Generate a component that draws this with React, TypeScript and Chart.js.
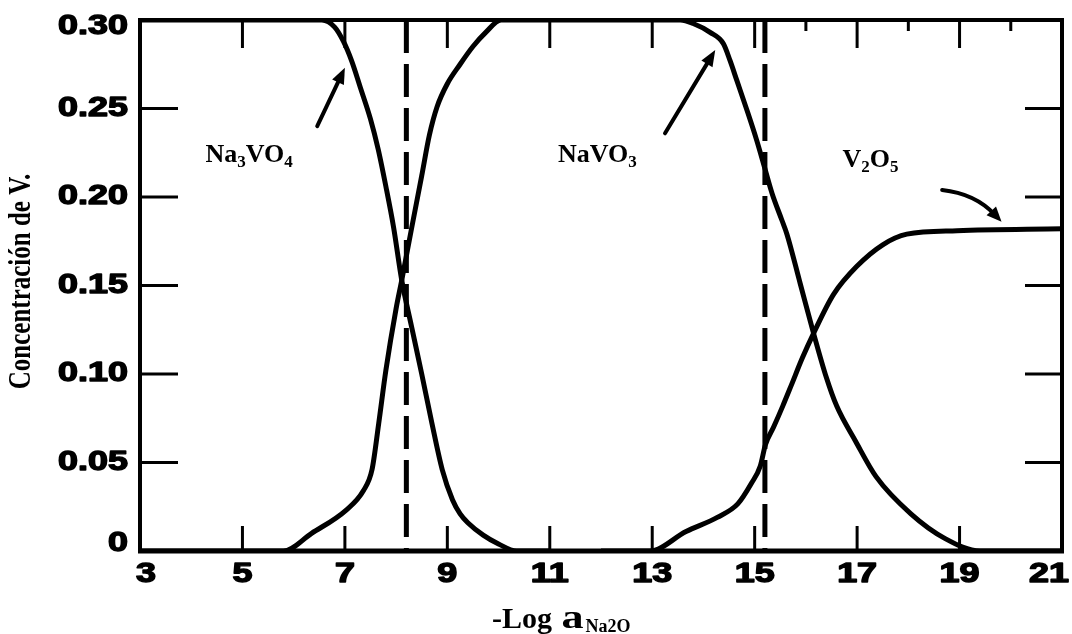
import React, { useEffect, useRef } from "react";
import { Chart, registerables } from "chart.js";

Chart.register(...registerables);

// ---------- axes ----------
const X_MIN = 3;
const X_MAX = 21;
const Y_MIN = 0;
const Y_MAX = 0.3;
const xTickValues = [3, 5, 7, 9, 11, 13, 15, 17, 19, 21];
const xTickLabels = ["3", "5", "7", "9", "11", "13", "15", "17", "19", "21"];
const yTickValues = [0, 0.05, 0.1, 0.15, 0.2, 0.25, 0.3];
const yTickLabels = ["0", "0.05", "0.10", "0.15", "0.20", "0.25", "0.30"];
const topMinorTicks = [16, 18, 20];
const xTitleParts = ["-Log ", "a", "Na2O"];
const yTitle = "Concentración de V.";

// ---------- series ----------
const na3vo4X = [3, 6.55, 6.8, 6.97, 7.13, 7.3, 7.5, 7.65, 7.8, 7.95, 8.11, 8.3, 8.5, 8.7, 8.9, 9.1, 9.25, 9.4, 9.7, 10.0, 10.35, 11];
const na3vo4Y = [0.3, 0.3, 0.296, 0.288, 0.277, 0.262, 0.244, 0.227, 0.206, 0.183, 0.153, 0.127, 0.1, 0.072, 0.046, 0.029, 0.021, 0.016, 0.009, 0.004, 0, 0];

const navo3X = [3, 5.8, 6.35, 7.02, 7.36, 7.53, 7.66, 7.8, 8.0, 8.11, 8.3, 8.5, 8.65, 8.8, 9.0, 9.25, 9.5, 9.75, 10.05, 13.55, 13.8, 14.13, 14.39, 14.52, 14.65, 14.85, 15.04, 15.2, 15.34, 15.53, 15.63, 15.89, 16.15, 16.4, 16.6, 16.97, 17.37, 18.05, 18.72, 19.4, 21];
const navo3Y = [0, 0, 0.01, 0.023, 0.034, 0.046, 0.072, 0.102, 0.137, 0.153, 0.182, 0.212, 0.235, 0.251, 0.264, 0.275, 0.285, 0.293, 0.3, 0.3, 0.298, 0.293, 0.2866, 0.277, 0.266, 0.249, 0.232, 0.216, 0.202, 0.187, 0.179, 0.151, 0.123, 0.098, 0.082, 0.062, 0.042, 0.021, 0.007, 0, 0];

const v2o5X = [12, 12.95, 13.66, 14.27, 14.67, 14.94, 15.11, 15.21, 15.37, 15.55, 15.72, 15.93, 16.15, 16.54, 17.0, 17.5, 17.97, 18.95, 21];
const v2o5Y = [0, 0, 0.011, 0.019, 0.0266, 0.0384, 0.048, 0.06, 0.07, 0.082, 0.094, 0.109, 0.123, 0.145, 0.161, 0.173, 0.179, 0.181, 0.182];

// phase boundaries (dashed verticals)
const boundaryX = [8.2, 15.2];

// ---------- annotations ----------
const speciesParts = [["Na", "3", "VO", "4"], ["NaVO", "3"], ["V", "2", "O", "5"]];
const speciesX = [5.13, 11.93, 17.26];
const speciesY = [0.2196, 0.2196, 0.2167];

const arrowFromX = [6.46, 13.25];
const arrowFromY = [0.24, 0.236];
const arrowToX = [7.0, 14.23];
const arrowToY = [0.273, 0.283];

const curvedArrowX = [18.66, 19.3, 19.82];
const curvedArrowY = [0.204, 0.202, 0.186];

const toPoints = (xs: number[], ys: number[]) => xs.map((x, i) => ({ x, y: ys[i] }));

function drawHead(ctx: CanvasRenderingContext2D, fx: number, fy: number, tx: number, ty: number, len: number, half: number) {
  const a = Math.atan2(ty - fy, tx - fx);
  const c = Math.cos(a);
  const s = Math.sin(a);
  ctx.beginPath();
  ctx.moveTo(tx, ty);
  ctx.lineTo(tx - len * c + half * s, ty - len * s - half * c);
  ctx.lineTo(tx - len * c - half * s, ty - len * s + half * c);
  ctx.closePath();
  ctx.fill();
}

function drawParts(ctx: CanvasRenderingContext2D, parts: string[], cx: number, baseline: number, mainFont: string, subFont: string, subDy: number) {
  let total = 0;
  const widths = parts.map((p, i) => {
    ctx.font = i % 2 === 0 ? mainFont : subFont;
    const w = ctx.measureText(p).width;
    total += w;
    return w;
  });
  let x = cx - total / 2;
  ctx.textAlign = "left";
  ctx.textBaseline = "alphabetic";
  parts.forEach((p, i) => {
    ctx.font = i % 2 === 0 ? mainFont : subFont;
    ctx.fillText(p, x, baseline + (i % 2 === 0 ? 0 : subDy));
    x += widths[i];
  });
}

const SERIF = '"Liberation Serif", "Times New Roman", serif';

const decorPlugin = {
  id: "decor",
  afterDatasetsDraw(chart: any) {
    const { ctx, chartArea: a, scales } = chart;
    const xs = scales.x;
    const ys = scales.y;
    const line = (x1: number, y1: number, x2: number, y2: number) => {
      ctx.beginPath();
      ctx.moveTo(x1, y1);
      ctx.lineTo(x2, y2);
      ctx.stroke();
    };
    ctx.save();
    ctx.strokeStyle = "#000";
    ctx.fillStyle = "#000";
    ctx.lineCap = "butt";

    // frame
    ctx.lineWidth = 4;
    ctx.strokeRect(a.left, a.top, a.right - a.left, a.bottom - a.top);
    ctx.lineWidth = 5;
    line(a.left - 2, a.bottom, a.right + 2, a.bottom);

    // inward ticks
    ctx.lineWidth = 3;
    xTickValues.forEach((v) => {
      if (v === X_MIN || v === X_MAX) return;
      const px = xs.getPixelForValue(v);
      line(px, a.bottom, px, a.bottom - 25);
      line(px, a.top, px, a.top + 28);
    });
    topMinorTicks.forEach((v) => {
      const px = xs.getPixelForValue(v);
      line(px, a.top, px, a.top + 11);
    });
    yTickValues.forEach((v) => {
      if (v === Y_MIN || v === Y_MAX) return;
      const py = ys.getPixelForValue(v);
      line(a.left, py, a.left + 38, py);
      line(a.right, py, a.right - 37, py);
    });

    // tick labels (heavy, horizontally stretched sans, as in the scan)
    const stretch = 1.33;
    ctx.font = 'bold 27px "Liberation Sans", Arial, sans-serif';
    ctx.lineWidth = 1.4;
    ctx.lineJoin = "round";
    ctx.textBaseline = "middle";
    ctx.textAlign = "right";
    yTickValues.forEach((v, i) => {
      const py = Math.min(Math.max(ys.getPixelForValue(v), a.top + 7), a.bottom - 7);
      ctx.save();
      ctx.translate(a.left - 12, py);
      ctx.scale(stretch, 1);
      ctx.fillText(yTickLabels[i], 0, 0);
      ctx.strokeText(yTickLabels[i], 0, 0);
      ctx.restore();
    });
    ctx.textAlign = "center";
    xTickValues.forEach((v, i) => {
      const px = Math.min(Math.max(xs.getPixelForValue(v), a.left + 6), a.right - 13);
      ctx.save();
      ctx.translate(px, a.bottom + 24);
      ctx.scale(stretch, 1);
      ctx.fillText(xTickLabels[i], 0, 0);
      ctx.strokeText(xTickLabels[i], 0, 0);
      ctx.restore();
    });

    // y title
    ctx.save();
    ctx.translate(22, (a.top + a.bottom) / 2 - 4);
    ctx.rotate(-Math.PI / 2);
    ctx.scale(1, 1.3);
    ctx.font = "bold 25px " + SERIF;
    ctx.textAlign = "center";
    ctx.textBaseline = "middle";
    ctx.fillText(yTitle, 0, 0);
    ctx.restore();

    // x title: "-Log a" with subscript Na2O
    ctx.textBaseline = "alphabetic";
    ctx.textAlign = "left";
    let tx = (a.left + a.right) / 2 - 109;
    ctx.font = "bold 30px " + SERIF;
    ctx.fillText(xTitleParts[0], tx, 628);
    tx += ctx.measureText(xTitleParts[0]).width + 2;
    ctx.font = "bold 34px " + SERIF;
    ctx.save();
    ctx.translate(tx, 628);
    ctx.scale(1.3, 1);
    ctx.fillText(xTitleParts[1], 0, 0);
    ctx.restore();
    tx += ctx.measureText(xTitleParts[1]).width * 1.3 + 2;
    ctx.font = "bold 18px " + SERIF;
    ctx.fillText(xTitleParts[2], tx, 632);

    // species labels
    speciesParts.forEach((parts, i) => {
      drawParts(
        ctx,
        parts,
        xs.getPixelForValue(speciesX[i]),
        ys.getPixelForValue(speciesY[i]),
        "bold 26px " + SERIF,
        "bold 17px " + SERIF,
        5
      );
    });

    // straight arrows
    ctx.lineWidth = 4;
    ctx.lineCap = "round";
    arrowFromX.forEach((_, i) => {
      const fx = xs.getPixelForValue(arrowFromX[i]);
      const fy = ys.getPixelForValue(arrowFromY[i]);
      const txp = xs.getPixelForValue(arrowToX[i]);
      const typ = ys.getPixelForValue(arrowToY[i]);
      const ang = Math.atan2(typ - fy, txp - fx);
      line(fx, fy, txp - 12 * Math.cos(ang), typ - 12 * Math.sin(ang));
      drawHead(ctx, fx, fy, txp, typ, 16, 6.5);
    });

    // curved arrow
    const cx0 = xs.getPixelForValue(curvedArrowX[0]);
    const cy0 = ys.getPixelForValue(curvedArrowY[0]);
    const cx1 = xs.getPixelForValue(curvedArrowX[1]);
    const cy1 = ys.getPixelForValue(curvedArrowY[1]);
    const cx2 = xs.getPixelForValue(curvedArrowX[2]);
    const cy2 = ys.getPixelForValue(curvedArrowY[2]);
    const ang2 = Math.atan2(cy2 - cy1, cx2 - cx1);
    ctx.beginPath();
    ctx.moveTo(cx0, cy0);
    ctx.quadraticCurveTo(cx1, cy1, cx2 - 10 * Math.cos(ang2), cy2 - 10 * Math.sin(ang2));
    ctx.stroke();
    drawHead(ctx, cx1, cy1, cx2, cy2, 15, 6.5);

    ctx.restore();
  },
};

export default function App() {
  const ref = useRef<HTMLCanvasElement | null>(null);
  useEffect(() => {
    document.body.style.margin = "0";
    document.body.style.overflow = "hidden";
    document.body.style.background = "#fff";
    if (!ref.current) return;
    const curve = (xs: number[], ys: number[]) => ({
      data: toPoints(xs, ys),
      borderColor: "#000",
      borderWidth: 5,
      pointRadius: 0,
      fill: false,
      cubicInterpolationMode: "monotone" as const,
    });
    const boundary = (bx: number) => ({
      data: [
        { x: bx, y: Y_MAX },
        { x: bx, y: Y_MIN },
      ],
      borderColor: "#000",
      borderWidth: 5,
      borderDash: [33, 11],
      pointRadius: 0,
      fill: false,
      tension: 0,
    });
    const chart = new Chart(ref.current, {
      type: "line",
      data: {
        datasets: [
          curve(na3vo4X, na3vo4Y),
          curve(navo3X, navo3Y),
          curve(v2o5X, v2o5Y),
          ...boundaryX.map(boundary),
        ],
      },
      options: {
        responsive: false,
        animation: false,
        parsing: true,
        layout: { padding: { left: 140, top: 20, right: 10, bottom: 83 } },
        plugins: { legend: { display: false }, tooltip: { enabled: false }, title: { display: false } },
        scales: {
          x: { type: "linear", min: X_MIN, max: X_MAX, display: false },
          y: { type: "linear", min: Y_MIN, max: Y_MAX, display: false },
        },
      },
      plugins: [decorPlugin],
    });
    return () => chart.destroy();
  }, []);
  return (
    <div style={{ width: 1072, height: 634, background: "#fff" }}>
      <canvas ref={ref} width={1072} height={634} style={{ display: "block" }} />
    </div>
  );
}
